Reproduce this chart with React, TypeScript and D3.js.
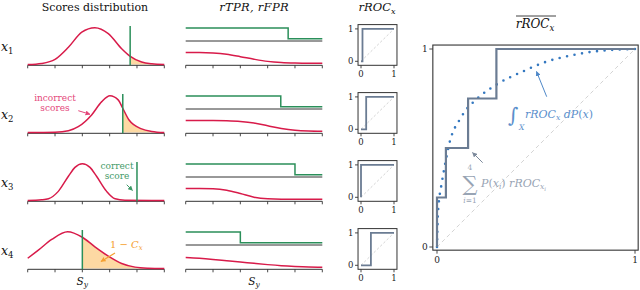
import React from "react";
import * as d3 from "d3";

// ---------- data ----------
const rowIndex = ["1", "2", "3", "4"];
const scoreTicks = [0, 1, 2, 3, 4, 5];
const unitTicks = [0, 1];

// incorrect-score densities (score, relative density)
const density1: [number, number][] = [[0, 0], [0.51, 0.03], [1.0, 0.14], [1.49, 0.47], [1.98, 0.88], [2.46, 1.0], [2.95, 0.84], [3.44, 0.43], [3.74, 0.23], [4.17, 0.07], [4.54, 0.02], [5, 0]];
const density2: [number, number][] = [[0, 0], [1.0, 0.01], [1.49, 0.05], [1.85, 0.16], [2.34, 0.48], [2.71, 0.84], [3.01, 1.0], [3.32, 0.88], [3.48, 0.66], [3.71, 0.34], [4.17, 0.1], [4.54, 0.03], [5, 0]];
const density3: [number, number][] = [[0, 0], [0.51, 0.02], [0.76, 0.05], [1.12, 0.25], [1.49, 0.66], [1.73, 0.9], [2.0, 1.0], [2.28, 0.9], [2.52, 0.66], [2.89, 0.25], [3.2, 0.05], [3.56, 0.01], [5, 0]];
const density4: [number, number][] = [[0, 0.28], [0.39, 0.5], [0.88, 0.79], [1.46, 1.0], [2.0, 0.85], [2.46, 0.59], [2.95, 0.34], [3.44, 0.14], [3.93, 0.04], [4.41, 0.01], [5, 0]];
const densities = [density1, density2, density3, density4];

// correct score per input
const correctScore = [3.75, 3.48, 4.0, 2.0];

// rFPR curves on a threshold grid
const thresholdGrid = [0, 0.5, 1, 1.5, 2, 2.5, 3, 3.5, 4, 4.5, 5];
const rFPR1 = [1, 1, 0.96, 0.84, 0.62, 0.38, 0.18, 0.07, 0.02, 0, 0];
const rFPR2 = [1, 1, 1, 0.98, 0.92, 0.78, 0.52, 0.26, 0.09, 0.02, 0];
const rFPR3 = [1, 1, 0.98, 0.85, 0.55, 0.2, 0.04, 0, 0, 0, 0];
const rFPR4 = [0.91, 0.84, 0.74, 0.62, 0.5, 0.37, 0.25, 0.15, 0.08, 0.03, 0.01];
const rFPRs = [rFPR1, rFPR2, rFPR3, rFPR4];

// rROC step position (FPR at the correct score) and weights
const rocStepFPR = [0.045, 0.157, 0.0, 0.30];
const inputWeight = [0.25, 0.25, 0.25, 0.25];

// integrated rROC (dotted)
const integratedROC: [number, number][] = [[0, 0], [0.004, 0.15], [0.012, 0.25], [0.02, 0.3], [0.032, 0.37], [0.045, 0.44], [0.057, 0.5], [0.125, 0.66], [0.204, 0.75], [0.3, 0.82], [0.43, 0.885], [0.55, 0.935], [0.69, 0.97], [0.815, 0.99], [1, 1]];

// ---------- style ----------
const FONT = "DejaVu Serif";
const RED = "#d81b4a";
const GREEN = "#2b8f5a";
const AX = "#333";
const FILL = "#fdd9a3";
const ROCGRAY = "#6b7c93";
const BLUE = "#3478c0";

const rowAxisY = (i: number) => 65.3 + i * 68;
const xL = d3.scaleLinear().domain([0, 5]).range([27.7, 164.3]);
const xM = d3.scaleLinear().domain([0, 5]).range([185.7, 322.3]);
const xS = d3.scaleLinear().domain([0, 1]).range([361, 394]);
const xB = d3.scaleLinear().domain([0, 1]).range([437, 635]);
const yB = d3.scaleLinear().domain([0, 1]).range([247, 49]);

function Axis({ x, y }: { x: d3.ScaleLinear<number, number>; y: number }) {
  const [a, b] = x.range();
  return (
    <g>
      <line x1={a} x2={b} y1={y} y2={y} stroke={AX} strokeWidth={1} />
      {scoreTicks.map((t) => (
        <line key={t} x1={x(t)} x2={x(t)} y1={y} y2={y + 3} stroke={AX} strokeWidth={0.9} />
      ))}
    </g>
  );
}

function Row({ i }: { i: number }) {
  const ay = rowAxisY(i);
  const yL = d3.scaleLinear().domain([0, 1]).range([ay - 0.7, ay - 37.6]);
  const dens = densities[i];
  const line = d3.line<[number, number]>().x((d) => xL(d[0])).y((d) => yL(d[1])).curve(d3.curveMonotoneX);
  const area = d3.area<[number, number]>().x((d) => xL(d[0])).y0(yL(0)).y1((d) => yL(d[1])).curve(d3.curveMonotoneX);
  const c = correctScore[i];
  const clipId = `clip${i}`;

  const base = ay - 24.3;
  const yG = d3.scaleLinear().domain([0, 1]).range([base - 2.3, base - 13]);
  const yR = d3.scaleLinear().domain([0, 1]).range([ay - 2, ay - 12.7]);
  const greenPts: [number, number][] = [[0, 1], [c, 0], [5, 0]];
  const gLine = d3.line<[number, number]>().x((d) => xM(d[0])).y((d) => yG(d[1])).curve(d3.curveStepAfter);
  const rPts: [number, number][] = thresholdGrid.map((t, k) => [t, rFPRs[i][k]]);
  const rLine = d3.line<[number, number]>().x((d) => xM(d[0])).y((d) => yR(d[1])).curve(d3.curveMonotoneX);

  const yS = d3.scaleLinear().domain([0, 1]).range([ay - 4, ay - 36.4]);
  const f = rocStepFPR[i];
  const rocPts: [number, number][] = [[0, 0], [f, 1], [1, 1]];
  const sLine = d3.line<[number, number]>().x((d) => xS(d[0])).y((d) => yS(d[1])).curve(d3.curveStepAfter);
  const fx0 = xS(-0.09), fx1 = xS(1.09), fy0 = ay, fy1 = ay - 40.7;

  return (
    <g>
      <defs>
        <clipPath id={clipId}>
          <rect x={xL(c)} y={ay - 45} width={xL(5) - xL(c)} height={45} />
        </clipPath>
      </defs>
      <text x={1} y={ay - 14} fontFamily={FONT} fontSize={12.5} fontStyle="italic" fill="#111">
        x<tspan fontSize={8.5} fontStyle="normal" dy={3}>{rowIndex[i]}</tspan>
      </text>
      <path d={area(dens) || ""} fill={FILL} clipPath={`url(#${clipId})`} />
      <Axis x={xL} y={ay} />
      <path d={line(dens) || ""} fill="none" stroke={RED} strokeWidth={1.5} />
      <line x1={xL(c)} x2={xL(c)} y1={ay} y2={ay - 39.3} stroke={GREEN} strokeWidth={1.5} />

      <line x1={xM(0)} x2={xM(5)} y1={base} y2={base} stroke={AX} strokeWidth={1} />
      <path d={gLine(greenPts) || ""} fill="none" stroke={GREEN} strokeWidth={1.5} />
      <path d={rLine(rPts) || ""} fill="none" stroke={RED} strokeWidth={1.5} />
      <Axis x={xM} y={ay} />

      <line x1={xS(0)} y1={yS(0)} x2={xS(1)} y2={yS(1)} stroke="#c8c8c8" strokeWidth={0.8} strokeDasharray="2.5 2" />
      <path d={sLine(rocPts) || ""} fill="none" stroke={ROCGRAY} strokeWidth={1.8} />
      <rect x={fx0} y={fy1} width={fx1 - fx0} height={fy0 - fy1} fill="none" stroke={AX} strokeWidth={1} />
      {unitTicks.map((t) => (
        <g key={t}>
          <line x1={fx0} x2={fx0 - 3} y1={yS(t)} y2={yS(t)} stroke={AX} strokeWidth={0.9} />
          <text x={fx0 - 4.5} y={yS(t) + 3} fontFamily={FONT} fontSize={8.5} textAnchor="end" fill="#222">{t}</text>
          <line x1={xS(t)} x2={xS(t)} y1={fy0} y2={fy0 + 3} stroke={AX} strokeWidth={0.9} />
          <text x={xS(t)} y={fy0 + 12} fontFamily={FONT} fontSize={8.5} textAnchor="middle" fill="#222">{t}</text>
        </g>
      ))}
    </g>
  );
}

export default function App() {
  const order = d3.range(rocStepFPR.length).sort((a, b) => rocStepFPR[a] - rocStepFPR[b]);
  let cum = 0;
  const avgPts: [number, number][] = [[0, 0]];
  order.forEach((k) => {
    cum += inputWeight[k];
    avgPts.push([rocStepFPR[k], cum]);
  });
  avgPts.push([1, cum]);
  const stepLine = d3.line<[number, number]>().x((d) => xB(d[0])).y((d) => yB(d[1])).curve(d3.curveStepAfter);
  const dotLine = d3.line<[number, number]>().x((d) => xB(d[0])).y((d) => yB(d[1])).curve(d3.curveMonotoneX);
  const bx0 = xB(-0.021), bx1 = xB(1.016), by0 = yB(-0.016), by1 = yB(1.02);

  const arrow = (id: string, color: string) => (
    <marker id={id} viewBox="0 0 10 10" refX={9} refY={5} markerWidth={5} markerHeight={5} orient="auto" markerUnits="userSpaceOnUse">
      <path d="M0,0 L10,5 L0,10 z" fill={color} />
    </marker>
  );

  return (
    <svg width={640} height={290} style={{ position: "absolute", left: 0, top: 0, background: "#fff" }}>
      <defs>
        {arrow("aRed", "#e4467a")}
        {arrow("aGreen", "#3f9a68")}
        {arrow("aOrange", "#f5a030")}
        {arrow("aBlue", "#4f88c8")}
        {arrow("aGray", "#7d8a9c")}
      </defs>
      <rect x={0} y={0} width={640} height={290} fill="#fff" />

      <text x={95} y={11} fontFamily={FONT} fontSize={11} textAnchor="middle" fill="#111">Scores distribution</text>
      <text x={254} y={11} fontFamily={FONT} fontSize={11.5} fontStyle="italic" textAnchor="middle" fill="#111" letterSpacing={0.3}>rTPR, rFPR</text>
      <text x={377} y={11} fontFamily={FONT} fontSize={11.5} fontStyle="italic" textAnchor="middle" fill="#111">
        rROC<tspan fontSize={8} dy={2.5}>x</tspan>
      </text>
      <line x1={516} x2={556} y1={16} y2={16} stroke="#111" strokeWidth={0.8} />
      <text x={535} y={28} fontFamily={FONT} fontSize={12} fontStyle="italic" textAnchor="middle" fill="#111">
        rROC<tspan fontSize={8.5} dy={2.5}>x</tspan>
      </text>

      {[0, 1, 2, 3].map((i) => (
        <Row key={i} i={i} />
      ))}

      <text x={xL(2)} y={285} fontFamily={FONT} fontSize={10.5} fontStyle="italic" textAnchor="middle" fill="#111">
        S<tspan fontSize={7.5} dy={2}>y</tspan>
      </text>
      <text x={xM(2.5)} y={285} fontFamily={FONT} fontSize={10.5} fontStyle="italic" textAnchor="middle" fill="#111">
        S<tspan fontSize={7.5} dy={2}>y</tspan>
      </text>

      <text x={55} y={101} fontFamily={FONT} fontSize={9} textAnchor="middle" fill="#e4467a">incorrect</text>
      <text x={55} y={111} fontFamily={FONT} fontSize={9} textAnchor="middle" fill="#e4467a">scores</text>
      <line x1={78.3} y1={110.7} x2={90} y2={114.3} stroke="#e4467a" strokeWidth={1} markerEnd="url(#aRed)" />

      <text x={117} y={169} fontFamily={FONT} fontSize={9} textAnchor="middle" fill="#3f9a68">correct</text>
      <text x={117} y={179} fontFamily={FONT} fontSize={9} textAnchor="middle" fill="#3f9a68">score</text>
      <line x1={126.7} y1={184.7} x2={132.5} y2={190.5} stroke="#3f9a68" strokeWidth={1} markerEnd="url(#aGreen)" />

      <text x={110} y={248} fontFamily={FONT} fontSize={10} fill="#f5a030">
        1 − <tspan fontStyle="italic">C</tspan><tspan fontStyle="italic" fontSize={7} dy={2}>x</tspan>
      </text>
      <line x1={115} y1={253} x2={101} y2={261.5} stroke="#f5a030" strokeWidth={1.2} markerEnd="url(#aOrange)" />

      <line x1={xB(0)} y1={yB(0)} x2={xB(1)} y2={yB(1)} stroke="#cfcfcf" strokeWidth={0.9} strokeDasharray="4 3" />
      <path d={dotLine(integratedROC) || ""} fill="none" stroke={BLUE} strokeWidth={2.6} strokeLinecap="round" strokeDasharray="0 7.6" />
      <path d={stepLine(avgPts) || ""} fill="none" stroke={ROCGRAY} strokeWidth={2.2} />
      <rect x={bx0} y={by1} width={bx1 - bx0} height={by0 - by1} fill="none" stroke={AX} strokeWidth={1.1} />
      {unitTicks.map((t) => (
        <g key={t}>
          <line x1={bx0} x2={bx0 - 3.5} y1={yB(t)} y2={yB(t)} stroke={AX} strokeWidth={0.9} />
          <text x={bx0 - 5} y={yB(t) + 3.2} fontFamily={FONT} fontSize={9} textAnchor="end" fill="#222">{t}</text>
          <line x1={xB(t)} x2={xB(t)} y1={by0} y2={by0 + 3.5} stroke={AX} strokeWidth={0.9} />
          <text x={xB(t)} y={by0 + 13} fontFamily={FONT} fontSize={9} textAnchor="middle" fill="#222">{t}</text>
        </g>
      ))}

      <line x1={546.7} y1={96.7} x2={536.5} y2={71.5} stroke="#4f88c8" strokeWidth={1} markerEnd="url(#aBlue)" />
      <text x={508} y={122} fontFamily={FONT} fontSize={20} fill="#5b8fcc">∫</text>
      <text x={519} y={130} fontFamily={FONT} fontSize={7.5} fontStyle="italic" fill="#5b8fcc">X</text>
      <text x={525} y={118} fontFamily={FONT} fontSize={11} fontStyle="italic" fill="#5b8fcc">
        rROC<tspan fontSize={7.5} dy={2}>x</tspan><tspan dy={-2}> dP</tspan><tspan fontStyle="normal">(</tspan>x<tspan fontStyle="normal">)</tspan>
      </text>

      <line x1={482.7} y1={162.7} x2={472.5} y2={152.5} stroke="#7d8a9c" strokeWidth={1} markerEnd="url(#aGray)" />
      <text x={470} y={170} fontFamily={FONT} fontSize={7.5} textAnchor="middle" fill="#98a4b4">4</text>
      <text x={470} y={191} fontFamily={FONT} fontSize={21} textAnchor="middle" fill="#98a4b4">∑</text>
      <text x={470} y={203} fontFamily={FONT} fontSize={7.5} fontStyle="italic" textAnchor="middle" fill="#98a4b4">
        i<tspan fontStyle="normal">=1</tspan>
      </text>
      <text x={481} y={187} fontFamily={FONT} fontSize={11} fontStyle="italic" fill="#98a4b4">
        P<tspan fontStyle="normal">(</tspan>x<tspan fontSize={7.5} dy={2}>i</tspan><tspan fontStyle="normal" dy={-2}>)</tspan> rROC<tspan fontSize={7.5} dy={2}>x</tspan><tspan fontSize={5.5} dy={1.5}>i</tspan>
      </text>
    </svg>
  );
}
